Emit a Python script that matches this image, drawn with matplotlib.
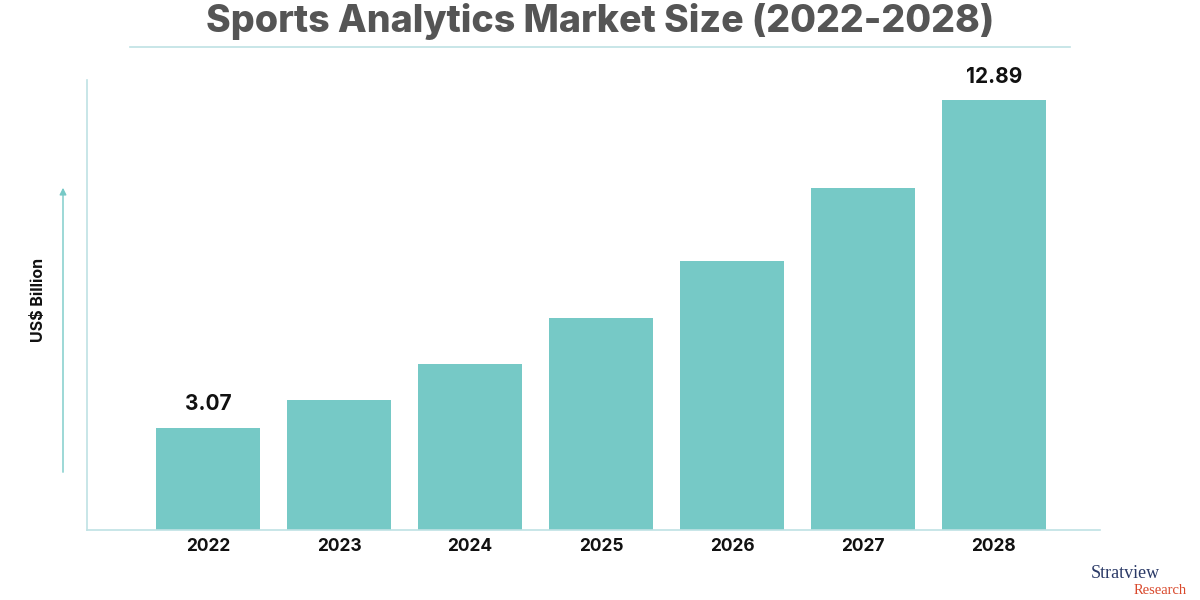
import matplotlib
matplotlib.use("Agg")
from matplotlib import pyplot as plt
import numpy as np

# data
years = ["2022", "2023", "2024", "2025", "2026", "2027", "2028"]
values = [3.07, 3.90, 4.98, 6.36, 8.06, 10.25, 12.89]
shown_labels = {0: "3.07", 6: "12.89"}

bar_color = "#76c9c6"
line_color = "#bfe2e4"

fig = plt.figure(figsize=(12, 6), dpi=100)
ax = fig.add_axes([87/1200, 1 - 530/600, (1100 - 87)/1200, 450/600])

x = np.arange(len(years))
ax.bar(x, values, width=0.79, color=bar_color, zorder=2)
ax.set_xlim(-0.924, 6.81)
ax.set_ylim(0, 13.49)

for i, txt in shown_labels.items():
    ax.text(x[i], values[i] + 0.4, txt, ha="center", va="bottom",
            fontsize=15, fontweight="bold", family="Inter", color="#111111")

ax.set_xticks(x)
ax.set_xticklabels(years, fontsize=12.5, fontweight="bold", family="Inter", color="#111111")
ax.tick_params(axis="x", length=0, pad=6)
ax.set_yticks([])

for side in ["top", "right"]:
    ax.spines[side].set_visible(False)
for side in ["left", "bottom"]:
    ax.spines[side].set_color(line_color)
    ax.spines[side].set_linewidth(1.2)

# title and rule under it
fig.text(0.5, 1 - 21/600, "Sports Analytics Market Size (2022-2028)", ha="center", va="center",
         fontsize=27, fontweight="heavy", family="Inter", color="#555555")
fig.add_artist(plt.Line2D([130/1200, 1070/1200], [1 - 47/600, 1 - 47/600],
                          color=line_color, linewidth=1.2))

# y axis label and arrow
fig.text(38/1200, 1 - 300/600, "US$ Billion", rotation=90, ha="center", va="center",
         fontsize=11.5, fontweight="bold", family="Inter", color="#111111")
ax.annotate("", xy=(63/1200, 1 - 185/600), xytext=(63/1200, 1 - 475/600),
            xycoords="figure fraction", textcoords="figure fraction",
            arrowprops=dict(arrowstyle="-|>", color=bar_color, lw=1.0, mutation_scale=10))

# logo text in the corner
fig.text(1125/1200, 1 - 574/600, "Stratview", ha="center", va="center",
         fontsize=13, family="Liberation Serif", color="#2b3a67")
fig.text(1160/1200, 1 - 590/600, "Research", ha="center", va="center",
         fontsize=10.5, family="Liberation Serif", color="#d9482b")

fig.savefig("out.png", dpi=100, facecolor="white")
